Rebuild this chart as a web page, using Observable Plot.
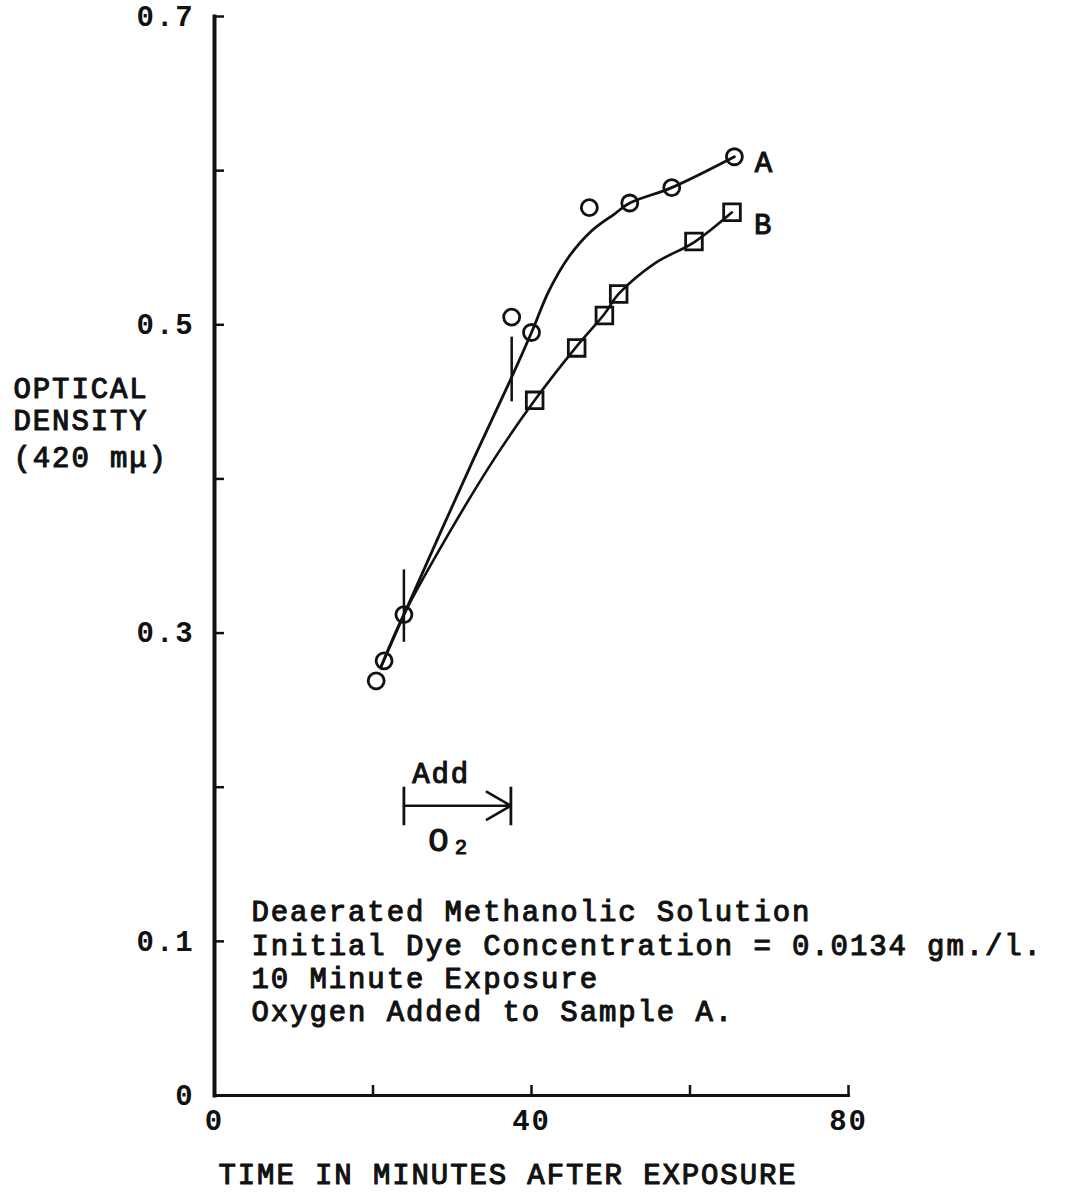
<!DOCTYPE html>
<html>
<head>
<meta charset="utf-8">
<script src="https://cdn.jsdelivr.net/npm/d3@7"></script>
<script src="https://cdn.jsdelivr.net/npm/@observablehq/plot@0.6"></script>
<style>
  html, body { margin: 0; padding: 0; background: #fff; }
  svg text { letter-spacing: 1.9px; }
</style>
</head>
<body>
<div id="chart"></div>
<script>
// ---- data ----
// Sample A (circles): time (min) and optical density
const aTime = [20.4, 21.4, 23.9, 37.5, 40.0, 47.3, 52.4, 57.7, 65.6];
const aOD   = [0.269, 0.282, 0.312, 0.505, 0.495, 0.576, 0.579, 0.589, 0.609];
// Sample B (squares)
const bTime = [40.4, 45.7, 49.2, 51.0, 60.5, 65.3];
const bOD   = [0.451, 0.485, 0.506, 0.520, 0.554, 0.573];
// hand-drawn smooth curves
const curveATime = [21.0, 23.9, 32.7, 37.5, 40.0, 42.2, 44.7, 47.6, 50.5, 52.4, 57.7, 65.6];
const curveAOD   = [0.278, 0.312, 0.413, 0.466, 0.495, 0.522, 0.544, 0.561, 0.572, 0.579, 0.589, 0.609];
const curveBTime = [21.0, 23.9, 29.5, 35.3, 40.4, 45.7, 49.2, 51.0, 55.6, 60.5, 65.3];
const curveBOD   = [0.278, 0.312, 0.364, 0.413, 0.451, 0.486, 0.507, 0.520, 0.540, 0.5535, 0.573];
// oxygen addition period (min)
const o2Start = 23.9, o2End = 37.4;
// ticks
const xTickValues = [20, 40, 60, 80];
const xTickLabels = [0, 40, 80];
const yTickValues = [0.1, 0.2, 0.3, 0.4, 0.5, 0.6, 0.7];
const yTickLabels = [0, 0.1, 0.3, 0.5, 0.7];
// texts
const yTitle = ["OPTICAL", "DENSITY"];
const yUnit = "(420 mμ)";
const xTitle = "TIME IN MINUTES AFTER EXPOSURE";
const noteLines = [
  "Deaerated Methanolic Solution",
  "Initial Dye Concentration = 0.0134 gm./l.",
  "10 Minute Exposure",
  "Oxygen Added to Sample A."
];

const ptsA = aTime.map((t, i) => ({t, od: aOD[i]}));
const ptsB = bTime.map((t, i) => ({t, od: bOD[i]}));
const lineA = curveATime.map((t, i) => ({t, od: curveAOD[i]}));
const lineB = curveBTime.map((t, i) => ({t, od: curveBOD[i]}));

const ink = "#111";
const FONT = "Liberation Mono, Courier New, monospace";
const FS = 29;
const txt = {fontSize: FS, fill: ink, stroke: ink, strokeWidth: 1.1};

const chart = Plot.plot({
  width: 1075,
  height: 1201,
  marginLeft: 214,
  marginRight: 227,
  marginTop: 16,
  marginBottom: 106,
  x: {domain: [0, 80], label: null},
  y: {domain: [0, 0.7], label: null},
  style: {fontFamily: FONT, fontSize: FS + "px", background: "#fff", color: ink, overflow: "visible"},
  marks: [
    // axes lines
    Plot.frame({anchor: "left", stroke: ink, strokeWidth: 4}),
    Plot.frame({anchor: "bottom", stroke: ink, strokeWidth: 3}),
    // inward ticks
    Plot.axisY({ticks: yTickValues, tickSize: -10, tickFormat: () => "", strokeWidth: 2.5, stroke: ink}),
    Plot.axisX({ticks: xTickValues, tickSize: -10, tickFormat: () => "", strokeWidth: 2.5, stroke: ink}),
    // tick labels
    Plot.axisY({ticks: yTickLabels, tickSize: 0, tickPadding: 20, fontSize: FS, fontWeight: "bold",
      tickFormat: d => d === 0 ? "0" : d.toFixed(1), label: null}),
    Plot.axisX({ticks: xTickLabels, tickSize: 0, tickPadding: 14, fontSize: FS, fontWeight: "bold",
      tickFormat: d => String(d), label: null}),
    // curves
    Plot.line(lineA, {x: "t", y: "od", curve: "catmull-rom", stroke: ink, strokeWidth: 2.8}),
    Plot.line(lineB, {x: "t", y: "od", curve: "catmull-rom", stroke: ink, strokeWidth: 2.6}),
    // points
    Plot.dot(ptsA, {x: "t", y: "od", r: 8, stroke: ink, strokeWidth: 2.8, fill: "none"}),
    Plot.dot(ptsB, {x: "t", y: "od", r: 9.4, symbol: "square", stroke: ink, strokeWidth: 2.8, fill: "none"}),
    // oxygen addition marks on the curves
    Plot.ruleX([{x: o2Start, y1: 0.294, y2: 0.341}, {x: 37.5, y1: 0.450, y2: 0.492}],
      {x: "x", y1: "y1", y2: "y2", stroke: ink, strokeWidth: 2.5}),
    // Add O2 arrow
    Plot.ruleX([o2Start, o2End], {y1: 0.175, y2: 0.200, stroke: ink, strokeWidth: 2.8}),
    Plot.arrow([{x1: o2Start, x2: o2End, y: 0.188}],
      {x1: "x1", x2: "x2", y1: "y", y2: "y", stroke: ink, strokeWidth: 2.6, headLength: 16, headAngle: 60}),
    Plot.text(["Add"], {x: 28.6, y: 0.209, text: d => d, ...txt}),
    Plot.text(["O₂"], {x: 29.8, y: 0.1655, text: d => d, ...txt, fontSize: 34}),
    // series labels
    Plot.text([{label: "A", t: 69.4, od: 0.605}, {label: "B", t: 69.3, od: 0.565}],
      {x: "t", y: "od", text: "label", ...txt}),
    // notes
    Plot.text([noteLines.join("\n")], {x: 4.67, y: 0.0876, text: d => d, textAnchor: "start",
      lineAnchor: "middle", lineHeight: 1.14, ...txt}),
    // y title
    Plot.text([yTitle.join("\n")], {frameAnchor: "left", y: 0.449, dx: -201, text: d => d,
      textAnchor: "start", lineAnchor: "middle", lineHeight: 1.1, ...txt}),
    Plot.text([yUnit], {frameAnchor: "left", y: 0.414, dx: -201, text: d => d,
      textAnchor: "start", ...txt}),
    // x title
    Plot.text([xTitle], {frameAnchor: "bottom-left", dx: 4, dy: 88, text: d => d,
      textAnchor: "start", ...txt})
  ]
});
document.getElementById("chart").appendChild(chart);
</script>
</body>
</html>
